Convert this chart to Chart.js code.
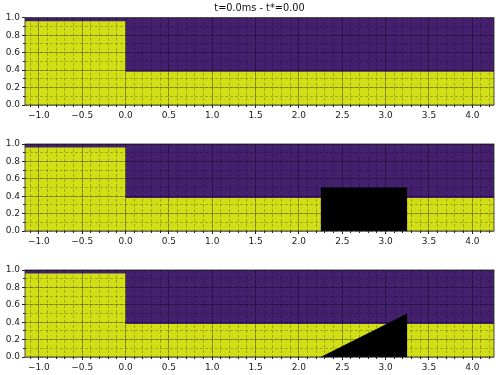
<!DOCTYPE html>
<html>
<head>
<meta charset="utf-8">
<script src="https://cdn.jsdelivr.net/npm/chart.js@4"></script>
<style>
  html, body { margin: 0; padding: 0; background: #fff; width: 500px; height: 375px; overflow: hidden; }
  .panel { position: absolute; left: 0; width: 500px; height: 127px; }
</style>
</head>
<body>
<div class="panel" style="top:0"><canvas id="plain-chart"></canvas></div>
<div class="panel" style="top:126px"><canvas id="rect-chart"></canvas></div>
<div class="panel" style="top:252px"><canvas id="wedge-chart"></canvas></div>
<script>
const TITLE = 't=0.0ms - t*=0.00';
const X_MIN = -1.16;
const X_MAX = 4.25;

// background gas, liquid interface, obstacles
const gasX = [-1.16, 4.25];
const gasY = [1, 1];
const liquidX = [-1.16, 0, 0, 4.25];
const liquidY = [0.96, 0.96, 0.38, 0.38];
const rectX = [2.25, 2.25, 3.25, 3.25];
const rectY = [0, 0.5, 0.5, 0];
const wedgeX = [2.25, 3.25, 3.25];
const wedgeY = [0, 0.5, 0];

const PURPLE = '#45206f';
const YELLOW = '#d3df16';
const MAJOR_GRID = 'rgba(0,0,0,0.24)';
const MINOR_GRID = 'rgba(0,0,0,0.24)';
const AXIS_COLOR = '#222';

function toPoints(xs, ys) {
    return xs.map((x, i) => ({ x: x, y: ys[i] }));
}

function area(xs, ys, color) {
    return {
        data: toPoints(xs, ys),
        showLine: true,
        fill: 'origin',
        tension: 0,
        borderWidth: 0,
        pointRadius: 0,
        backgroundColor: color
    };
}

function tickText(value) {
    return value.toFixed(1).replace('-', '\u2212');
}

const frame = {
    id: 'frame',
    afterDraw(chart) {
        const a = chart.chartArea;
        const ctx = chart.ctx;
        ctx.save();
        ctx.strokeStyle = AXIS_COLOR;
        ctx.lineWidth = 0.8;
        ctx.strokeRect(a.left, a.top, a.right - a.left, a.bottom - a.top);
        ctx.restore();
    }
};

function majorAxis(min, max, step, size) {
    const horizontal = size.height !== undefined;
    return {
        type: 'linear',
        position: horizontal ? 'bottom' : 'left',
        min: min,
        max: max,
        weight: 1,
        afterFit(scale) {
            if (horizontal) scale.height = size.height;
            else scale.width = size.width;
        },
        border: { display: false },
        grid: { z: 1, color: MAJOR_GRID, lineWidth: 1, drawTicks: true, tickLength: 3, tickColor: AXIS_COLOR },
        ticks: {
            stepSize: step,
            includeBounds: false,
            autoSkip: false,
            maxRotation: 0,
            padding: 2,
            color: '#222',
            font: { family: 'DejaVu Sans', size: 9 },
            callback: tickText
        }
    };
}

function minorAxis(min, max, step, position) {
    return {
        type: 'linear',
        position: position,
        min: min,
        max: max,
        weight: 0,
        afterFit(scale) {
            if (position === 'bottom') scale.height = 0;
            else scale.width = 0;
        },
        border: { display: false, dash: [3, 2] },
        grid: { z: 1, color: MINOR_GRID, lineWidth: 1, drawTicks: true, tickLength: 2, tickColor: AXIS_COLOR },
        ticks: { display: false, stepSize: step, includeBounds: false, autoSkip: false }
    };
}

function drawPanel(id, obstacle, title) {
    const datasets = [];
    if (obstacle) datasets.push(area(obstacle[0], obstacle[1], '#000'));
    datasets.push(area(liquidX, liquidY, YELLOW));
    datasets.push(area(gasX, gasY, PURPLE));

    new Chart(document.getElementById(id).getContext('2d'), {
        type: 'scatter',
        data: { datasets: datasets },
        plugins: [frame],
        options: {
            responsive: true,
            maintainAspectRatio: false,
            animation: false,
            layout: { padding: { top: title ? 0 : 18, right: 6, left: 0, bottom: 0 } },
            plugins: {
                legend: { display: false },
                tooltip: { enabled: false },
                title: {
                    display: !!title,
                    text: title,
                    fullSize: false,
                    color: '#111',
                    font: { family: 'DejaVu Sans', size: 9.75, weight: 'normal', lineHeight: 1 },
                    padding: { top: 4, bottom: 4 }
                }
            },
            scales: {
                x: majorAxis(X_MIN, X_MAX, 0.5, { height: 22 }),
                xMinor: minorAxis(X_MIN, X_MAX, 0.1, 'bottom'),
                y: majorAxis(0, 1, 0.2, { width: 25 }),
                yMinor: minorAxis(0, 1, 0.1, 'left')
            }
        }
    });
}

drawPanel('plain-chart', null, TITLE);
drawPanel('rect-chart', [rectX, rectY], '');
drawPanel('wedge-chart', [wedgeX, wedgeY], '');
</script>
</body>
</html>
